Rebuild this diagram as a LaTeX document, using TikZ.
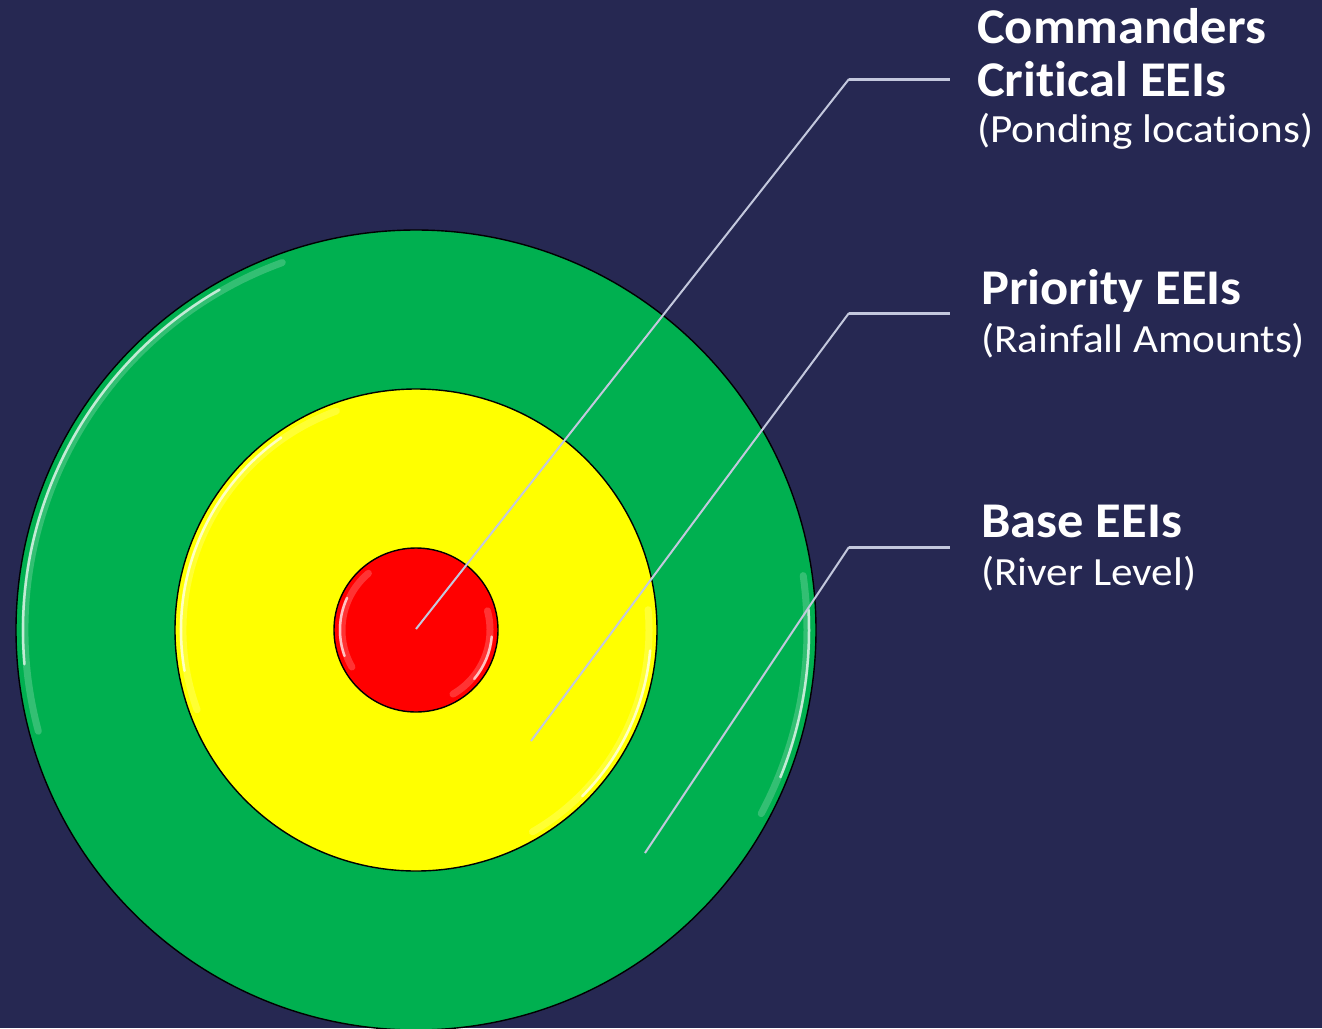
\documentclass[tikz,border=0pt]{standalone}
\usepackage{fontspec}
\newfontfamily\labfont[FakeStretch=1.08,Ligatures=NoCommon]{Carlito}
\newfontfamily\titlefont[FakeStretch=1.05,Ligatures=NoCommon]{Carlito}
\definecolor{bg}{HTML}{262852}
\definecolor{ringgreen}{HTML}{00B050}
\definecolor{ringyellow}{HTML}{FFFF00}
\definecolor{ringred}{HTML}{FF0000}
\definecolor{leader}{HTML}{C3C8DD}
\tikzset{
  ring/.style={draw=black, line width=1.4pt},
  gloss/.style={draw=white, line width=2.5pt, opacity=0.7, line cap=round},
  softgloss/.style={draw=white, line width=7pt, opacity=0.2, line cap=round},
  leaderline/.style={draw=leader, line width=2pt},
  leaderbar/.style={draw=leader, line width=3pt},
  titletext/.style={anchor=base west, inner sep=0pt, text=white, font=\titlefont\bfseries\fontsize{50}{52}\selectfont},
  subtext/.style={anchor=base west, inner sep=0pt, text=white, font=\labfont\fontsize{40}{44}\selectfont}
}
\begin{document}
\begin{tikzpicture}[x=1pt,y=-1pt]
\useasboundingbox (0,0) rectangle (1322,1028);
\fill[bg] (0,0) rectangle (1322,1028);
\begin{scope}
\clip (0,0) rectangle (1322,1028);
% rings
\coordinate (c) at (416,630);
\fill[ringgreen] (c) circle[radius=400];
\draw[softgloss] ([shift={(-195:391)}]c) arc[start angle=-195, end angle=-110, radius=391];
\draw[gloss] ([shift={(-185:393)}]c) arc[start angle=-185, end angle=-120, radius=393];
\draw[softgloss] ([shift={(-8:391)}]c) arc[start angle=-8, end angle=28, radius=391];
\draw[gloss] ([shift={(-3:393)}]c) arc[start angle=-3, end angle=22, radius=393];
\draw[ring] (c) circle[radius=400];

\fill[ringyellow] (c) circle[radius=241];
\draw[softgloss] ([shift={(-200:233)}]c) arc[start angle=-200, end angle=-110, radius=233];
\draw[gloss] ([shift={(-190:235)}]c) arc[start angle=-190, end angle=-125, radius=235];
\draw[softgloss] ([shift={(-5:233)}]c) arc[start angle=-5, end angle=60, radius=233];
\draw[gloss] ([shift={(5:235)}]c) arc[start angle=5, end angle=45, radius=235];
\draw[ring] (c) circle[radius=241];

\fill[ringred] (c) circle[radius=82];
\draw[softgloss] ([shift={(-210:74)}]c) arc[start angle=-210, end angle=-130, radius=74];
\draw[gloss] ([shift={(-200:76)}]c) arc[start angle=-200, end angle=-155, radius=76];
\draw[softgloss] ([shift={(-15:74)}]c) arc[start angle=-15, end angle=60, radius=74];
\draw[gloss] ([shift={(5:76)}]c) arc[start angle=5, end angle=40, radius=76];
\draw[ring] (c) circle[radius=82];
\end{scope}

% connector points
\coordinate (p1) at (416,629);
\coordinate (k1) at (849,79);
\coordinate (e1) at (950,79);
\coordinate (p2) at (531,741);
\coordinate (k2) at (849,313);
\coordinate (e2) at (950,313);
\coordinate (p3) at (645,853);
\coordinate (k3) at (849,547);
\coordinate (e3) at (950,547);

\draw[leaderline] (p1) -- (k1);
\draw[leaderbar] (k1) -- (e1);
\draw[leaderline] (p2) -- (k2);
\draw[leaderbar] (k2) -- (e2);
\draw[leaderline] (p3) -- (k3);
\draw[leaderbar] (k3) -- (e3);

% labels
\node[titletext] (t1a) at (977,43) {Commanders};
\node[titletext] (t1b) at (977,96) {Critical EEIs};
\node[subtext] (s1) at (977,142) {(Ponding locations)};
\node[titletext] (t2) at (981,304) {Priority EEIs};
\node[subtext] (s2) at (981,352) {(Rainfall Amounts)};
\node[titletext] (t3) at (981,537) {Base EEIs};
\node[subtext] (s3) at (981,585) {(River Level)};
\end{tikzpicture}
\end{document}
